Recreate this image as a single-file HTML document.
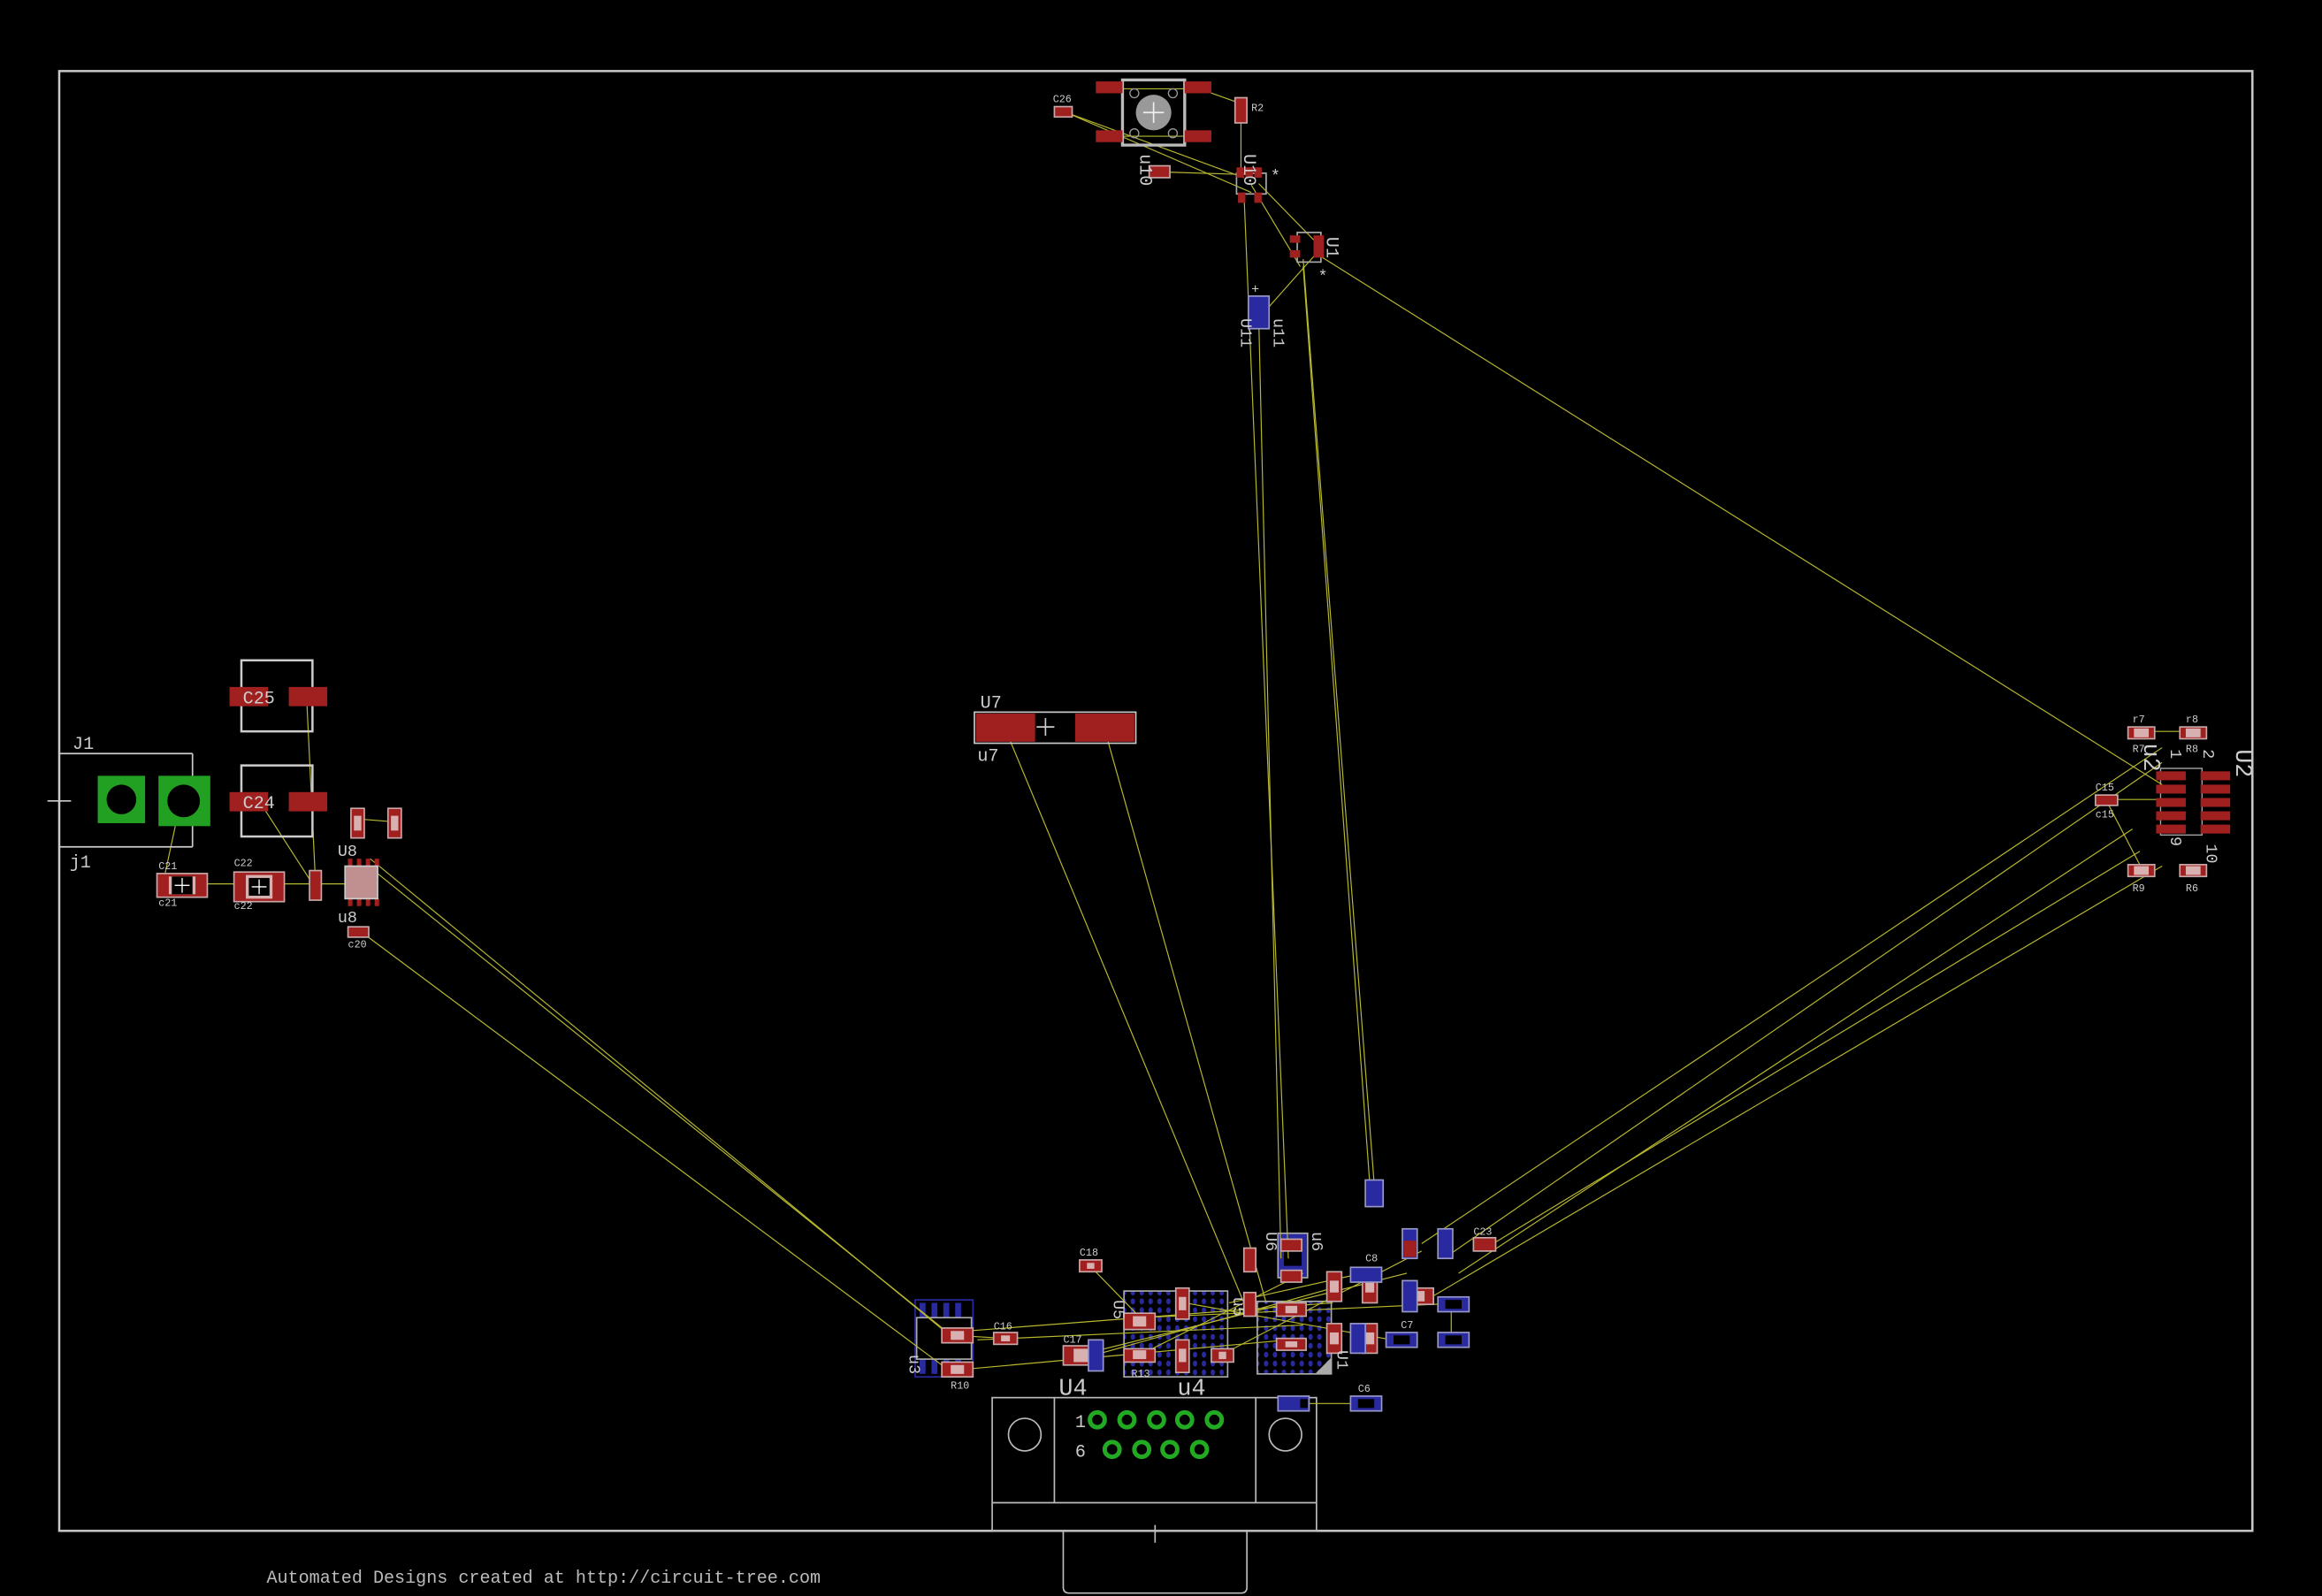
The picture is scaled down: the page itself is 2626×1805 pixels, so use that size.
<!DOCTYPE html>
<html><head><meta charset="utf-8"><style>
html,body{margin:0;padding:0;background:#000;}
svg{display:block;}
text{font-family:"Liberation Mono",monospace;}
</style></head><body>
<svg width="2626" height="1805" viewBox="0 0 1568 1078" preserveAspectRatio="none" xmlns="http://www.w3.org/2000/svg">
<defs>
<pattern id="dots" width="6" height="6" patternUnits="userSpaceOnUse"><ellipse cx="3" cy="3" rx="1.5" ry="2" fill="#2a2aa0"/></pattern>
</defs>
<rect width="1568" height="1078" fill="#000"/>
<!-- board -->
<rect x="40" y="48" width="1481" height="986" fill="none" stroke="#c8c8c8" stroke-width="1.5"/>
<rect x="670" y="944" width="219" height="90" fill="none" stroke="#bbb" stroke-width="1"/>
<line x1="670" y1="1015" x2="889" y2="1015" stroke="#bbb"/>
<line x1="712" y1="944" x2="712" y2="1015" stroke="#bbb"/>
<line x1="848" y1="944" x2="848" y2="1015" stroke="#bbb"/>
<circle cx="692" cy="969" r="11" fill="none" stroke="#bbb"/>
<circle cx="868" cy="969" r="11" fill="none" stroke="#bbb"/>
<path d="M718 1034 V1072 Q718 1076 722 1076 H838 Q842 1076 842 1072 V1034" fill="none" stroke="#bbb"/>
<line x1="780" y1="1030" x2="780" y2="1042" stroke="#bbb"/>
<g fill="none" stroke="#22aa22" stroke-width="3">
<circle cx="741" cy="959" r="5"/><circle cx="761" cy="959" r="5"/><circle cx="781" cy="959" r="5"/><circle cx="800" cy="959" r="5"/><circle cx="820" cy="959" r="5"/>
<circle cx="751" cy="979" r="5"/><circle cx="771" cy="979" r="5"/><circle cx="790" cy="979" r="5"/><circle cx="810" cy="979" r="5"/>
</g>
<text x="726" y="964" fill="#ccc" font-size="12">1</text>
<text x="726" y="984" fill="#ccc" font-size="12">6</text>
<text x="715" y="942" fill="#ccc" font-size="16">U4</text>
<text x="795" y="942" fill="#ccc" font-size="16">u4</text>
<text x="180" y="1069" fill="#bbb" font-size="12">Automated Designs created at http://circuit-tree.com</text>

<!-- bottom cluster chips -->
<rect x="618" y="878" width="39" height="52" fill="none" stroke="#2a2aa0"/>
<g fill="#2a2aa0"><rect x="621" y="880" width="4" height="10"/><rect x="629" y="880" width="4" height="10"/><rect x="637" y="880" width="4" height="10"/><rect x="645" y="880" width="4" height="10"/>
<rect x="621" y="918" width="4" height="10"/><rect x="629" y="918" width="4" height="10"/><rect x="637" y="918" width="4" height="10"/><rect x="645" y="918" width="4" height="10"/></g>
<rect x="619" y="890" width="37" height="28" fill="none" stroke="#aaa" stroke-width="1"/>
<rect x="759" y="872" width="70" height="58" fill="url(#dots)" stroke="#aaa" stroke-width="1"/>
<rect x="849" y="879" width="50" height="49" fill="url(#dots)" stroke="#aaa" stroke-width="1"/>
<path d="M888 928 L899 928 L899 917 Z" fill="#aaa"/>
<rect x="863" y="833" width="20" height="30" fill="#2a2aa0" stroke="#aaa"/>
<rect x="867" y="843" width="12" height="12" fill="#000"/>

<!-- ratsnest -->
<g stroke="#b8b830" stroke-width="0.7" fill="none">
<line x1="890" y1="172" x2="1460" y2="530"/>
<line x1="840" y1="130" x2="870" y2="850"/>
<line x1="850" y1="215" x2="865" y2="850"/>
<line x1="880" y1="175" x2="928" y2="800"/>
<line x1="880" y1="180" x2="925" y2="800"/>
<line x1="682" y1="500" x2="840" y2="880"/>
<line x1="748" y1="500" x2="855" y2="880"/>
<line x1="255" y1="590" x2="640" y2="900"/>
<line x1="250" y1="580" x2="645" y2="905"/>
<line x1="242" y1="628" x2="640" y2="925"/>
<line x1="1460" y1="505" x2="960" y2="840"/>
<line x1="1460" y1="515" x2="975" y2="850"/>
<line x1="1440" y1="560" x2="985" y2="860"/>
<line x1="1445" y1="575" x2="1000" y2="845"/>
<line x1="1460" y1="585" x2="960" y2="880"/>
<line x1="720" y1="76" x2="840" y2="120"/>
<line x1="720" y1="76" x2="845" y2="130"/>
<line x1="780" y1="116" x2="845" y2="118"/>
<line x1="838" y1="75" x2="838" y2="120"/>
<line x1="752" y1="60" x2="810" y2="60"/><line x1="752" y1="92" x2="810" y2="92"/>
<line x1="810" y1="60" x2="838" y2="70"/>
<line x1="850" y1="124" x2="890" y2="165"/>
<line x1="845" y1="125" x2="878" y2="180"/>
<line x1="890" y1="170" x2="850" y2="215"/>
<line x1="122" y1="541" x2="110" y2="597"/>
<line x1="110" y1="597" x2="245" y2="597"/>
<line x1="207" y1="470" x2="213" y2="595"/>
<line x1="175" y1="541" x2="213" y2="600"/>
<line x1="240" y1="553" x2="265" y2="555"/>
<line x1="640" y1="900" x2="900" y2="880"/>
<line x1="660" y1="905" x2="880" y2="895"/>
<line x1="730" y1="915" x2="950" y2="860"/>
<line x1="770" y1="890" x2="990" y2="880"/>
<line x1="800" y1="880" x2="940" y2="905"/>
<line x1="650" y1="925" x2="870" y2="905"/>
<line x1="740" y1="915" x2="900" y2="870"/>
<line x1="825" y1="915" x2="960" y2="845"/>
<line x1="830" y1="880" x2="920" y2="860"/>
<line x1="770" y1="915" x2="880" y2="860"/>
<line x1="736" y1="855" x2="770" y2="890"/>
<line x1="645" y1="902" x2="680" y2="904"/>
<line x1="875" y1="948" x2="922" y2="948"/>
<line x1="980" y1="880" x2="980" y2="905"/>
<line x1="1422" y1="540" x2="1460" y2="540"/>
<line x1="1445" y1="494" x2="1480" y2="494"/>
<line x1="1422" y1="540" x2="1447" y2="588"/>
</g>

<!-- passives (red) -->
<g fill="#a02020" stroke="#c8a8a8" stroke-width="1">
<rect x="729" y="851" width="15" height="8"/><rect x="671" y="900" width="16" height="8"/>
<rect x="636" y="897" width="21" height="10"/><rect x="636" y="920" width="21" height="10"/>
<rect x="718" y="909" width="27" height="13"/>
<rect x="759" y="887" width="21" height="11"/><rect x="759" y="911" width="21" height="9"/>
<rect x="794" y="870" width="9" height="21"/><rect x="794" y="905" width="9" height="22"/>
<rect x="818" y="911" width="15" height="9"/>
<rect x="840" y="843" width="8" height="16"/><rect x="840" y="873" width="8" height="16"/>
<rect x="865" y="837" width="14" height="8"/><rect x="865" y="858" width="14" height="8"/>
<rect x="862" y="880" width="20" height="9"/><rect x="862" y="904" width="20" height="8"/>
<rect x="896" y="859" width="10" height="20"/><rect x="896" y="894" width="10" height="20"/>
<rect x="920" y="859" width="10" height="21"/><rect x="920" y="894" width="10" height="20"/>
<rect x="948" y="870" width="20" height="11"/><rect x="995" y="836" width="15" height="9"/>
<rect x="712" y="72" width="12" height="7"/><rect x="834" y="66" width="8" height="17"/>
<rect x="776" y="112" width="14" height="8"/>
<rect x="106" y="590" width="34" height="16"/><rect x="158" y="589" width="34" height="20"/>
<rect x="209" y="588" width="8" height="20"/>
<rect x="237" y="546" width="9" height="20"/><rect x="262" y="546" width="9" height="20"/>
<rect x="235" y="626" width="14" height="7"/>
<rect x="1437" y="491" width="18" height="8"/><rect x="1472" y="491" width="18" height="8"/>
<rect x="1437" y="584" width="18" height="8"/><rect x="1472" y="584" width="18" height="8"/>
<rect x="1415" y="537" width="15" height="7"/>
</g>
<!-- passive centers -->
<g fill="#d8b0b0">
<rect x="734" y="853" width="5" height="4"/><rect x="676" y="902" width="6" height="4"/>
<rect x="642" y="899" width="9" height="6"/><rect x="642" y="922" width="9" height="6"/>
<rect x="725" y="911" width="13" height="9"/>
<rect x="765" y="889" width="9" height="7"/><rect x="765" y="912" width="9" height="6"/>
<rect x="796" y="876" width="5" height="9"/><rect x="796" y="911" width="5" height="9"/>
<rect x="823" y="913" width="5" height="5"/>
<rect x="868" y="882" width="8" height="5"/><rect x="868" y="906" width="8" height="4"/>
<rect x="898" y="865" width="6" height="8"/><rect x="898" y="900" width="6" height="8"/>
<rect x="922" y="865" width="6" height="8"/><rect x="922" y="900" width="6" height="8"/>
<rect x="953" y="872" width="9" height="7"/>
<rect x="114" y="592" width="18" height="12"/><rect x="166" y="591" width="18" height="16"/>
<rect x="239" y="551" width="5" height="10"/><rect x="264" y="551" width="5" height="10"/>
<rect x="1441" y="492" width="10" height="6"/><rect x="1476" y="492" width="10" height="6"/>
<rect x="1441" y="585" width="10" height="6"/><rect x="1476" y="585" width="10" height="6"/>
</g>
<rect x="116" y="592" width="14" height="12" fill="#000"/><rect x="168" y="593" width="14" height="12" fill="#000"/>
<g stroke="#fff" stroke-width="0.8"><line x1="118" y1="598" x2="128" y2="598"/><line x1="123" y1="593" x2="123" y2="603"/><line x1="170" y1="599" x2="180" y2="599"/><line x1="175" y1="594" x2="175" y2="604"/></g>

<!-- blue parts -->
<g fill="#2a2aa0" stroke="#9898c8" stroke-width="1">
<rect x="922" y="797" width="12" height="18"/>
<rect x="735" y="905" width="10" height="21"/>
<rect x="912" y="856" width="21" height="10"/>
<rect x="912" y="894" width="10" height="20"/>
<rect x="936" y="900" width="21" height="10"/>
<rect x="947" y="830" width="10" height="20"/><rect x="947" y="865" width="10" height="21"/>
<rect x="971" y="830" width="10" height="20"/>
<rect x="971" y="876" width="21" height="10"/><rect x="971" y="900" width="21" height="10"/>
<rect x="863" y="943" width="21" height="10"/><rect x="912" y="943" width="21" height="10"/>
<rect x="843" y="200" width="14" height="22"/>
</g>
<g fill="#000"><rect x="878" y="945" width="5" height="6"/><rect x="917" y="945" width="11" height="6"/><rect x="976" y="878" width="11" height="6"/><rect x="976" y="902" width="11" height="6"/><rect x="941" y="902" width="11" height="6"/></g>
<rect x="948" y="838" width="8" height="11" fill="#a02020"/>

<g fill="#ccc" font-size="7">
<text x="671" y="898">C16</text><text x="718" y="907">C17</text><text x="729" y="848">C18</text>
<text x="642" y="938">R10</text><text x="764" y="930">R13</text><text x="995" y="834">C23</text>
<text x="922" y="852">C8</text><text x="946" y="897">C7</text><text x="917" y="940">C6</text>
<text x="711" y="69">C26</text><text x="845" y="75">R2</text>
<text x="107" y="587">C21</text><text x="107" y="612">c21</text><text x="158" y="585">C22</text><text x="158" y="614">c22</text>
<text x="235" y="640">c20</text>
<text x="1440" y="488">r7</text><text x="1476" y="488">r8</text><text x="1440" y="508">R7</text><text x="1476" y="508">R8</text>
<text x="1415" y="534">C15</text><text x="1415" y="552">c15</text>
<text x="1440" y="602">R9</text><text x="1476" y="602">R6</text>
</g>
<text x="614" y="915" fill="#ccc" font-size="11" transform="rotate(90 614 915)">u3</text>
<text x="752" y="878" fill="#ccc" font-size="11" transform="rotate(90 752 878)">U5</text>
<text x="855" y="832" fill="#ccc" font-size="11" transform="rotate(90 855 832)">U6</text>
<text x="886" y="832" fill="#ccc" font-size="11" transform="rotate(90 886 832)">u6</text>
<text x="833" y="876" fill="#ccc" font-size="11" transform="rotate(90 833 876)">u5</text>
<text x="903" y="912" fill="#ccc" font-size="11" transform="rotate(90 903 912)">U1</text>

<!-- top button -->
<rect x="758" y="54" width="42" height="44" fill="none" stroke="#bbb" stroke-width="2"/>
<circle cx="779" cy="76" r="12" fill="#999"/>
<line x1="772" y1="76" x2="786" y2="76" stroke="#eee"/><line x1="779" y1="69" x2="779" y2="83" stroke="#eee"/>
<g fill="none" stroke="#999" stroke-width="0.8"><circle cx="766" cy="63" r="3"/><circle cx="792" cy="63" r="3"/><circle cx="766" cy="90" r="3"/><circle cx="792" cy="90" r="3"/></g>
<g fill="#a02020">
<rect x="740" y="55" width="18" height="8"/><rect x="800" y="55" width="18" height="8"/>
<rect x="740" y="88" width="18" height="8"/><rect x="800" y="88" width="18" height="8"/>
</g>
<rect x="835" y="117" width="20" height="14" fill="none" stroke="#aaa"/>
<g fill="#a02020"><rect x="835" y="113" width="5" height="7"/><rect x="841" y="113" width="5" height="7"/><rect x="847" y="113" width="5" height="7"/>
<rect x="836" y="130" width="5" height="7"/><rect x="847" y="130" width="5" height="7"/></g>
<text x="858" y="122" fill="#ccc" font-size="11">*</text>
<text x="840" y="104" fill="#ccc" font-size="12" transform="rotate(90 840 104)">U10</text>
<text x="770" y="104" fill="#ccc" font-size="12" transform="rotate(90 770 104)">u10</text>
<rect x="876" y="157" width="16" height="20" fill="none" stroke="#aaa"/>
<g fill="#a02020"><rect x="871" y="159" width="7" height="5"/><rect x="871" y="169" width="7" height="5"/><rect x="887" y="159" width="7" height="5"/><rect x="887" y="164" width="7" height="5"/><rect x="887" y="169" width="7" height="5"/></g>
<text x="890" y="190" fill="#ccc" font-size="11">*</text>
<text x="896" y="160" fill="#ccc" font-size="12" transform="rotate(90 896 160)">U1</text>
<text x="838" y="215" fill="#ccc" font-size="11" transform="rotate(90 838 215)">U11</text>
<text x="860" y="215" fill="#ccc" font-size="11" transform="rotate(90 860 215)">u11</text>
<text x="845" y="198" fill="#ccc" font-size="9">+</text>

<!-- U7 -->
<rect x="658" y="481" width="109" height="21" fill="none" stroke="#ccc"/>
<rect x="659" y="482" width="40" height="19" fill="#a02020"/><rect x="726" y="482" width="40" height="19" fill="#a02020"/>
<line x1="700" y1="491" x2="712" y2="491" stroke="#ccc"/><line x1="706" y1="485" x2="706" y2="497" stroke="#ccc"/>
<text x="662" y="478" fill="#ccc" font-size="12">U7</text>
<text x="660" y="514" fill="#ccc" font-size="12">u7</text>

<!-- left side -->
<line x1="40" y1="509" x2="130" y2="509" stroke="#ccc"/>
<line x1="40" y1="572" x2="130" y2="572" stroke="#ccc"/>
<line x1="130" y1="509" x2="130" y2="572" stroke="#ccc"/>
<line x1="32" y1="541" x2="48" y2="541" stroke="#ccc"/>
<rect x="66" y="524" width="32" height="32" fill="#22a022"/><circle cx="82" cy="540" r="10" fill="#000"/>
<rect x="107" y="524" width="35" height="34" fill="#22a022"/><circle cx="124" cy="541" r="11" fill="#000"/>
<text x="49" y="506" fill="#ccc" font-size="12">J1</text>
<text x="47" y="586" fill="#ccc" font-size="12">j1</text>
<rect x="163" y="446" width="48" height="48" fill="none" stroke="#ccc" stroke-width="1.5"/>
<rect x="155" y="464" width="26" height="13" fill="#a02020"/><rect x="195" y="464" width="26" height="13" fill="#a02020"/>
<text x="164" y="475" fill="#ccc" font-size="12">C25</text>
<rect x="163" y="517" width="48" height="48" fill="none" stroke="#ccc" stroke-width="1.5"/>
<rect x="155" y="535" width="26" height="13" fill="#a02020"/><rect x="195" y="535" width="26" height="13" fill="#a02020"/>
<text x="164" y="546" fill="#ccc" font-size="12">C24</text>
<g fill="#a02020"><rect x="235" y="580" width="3" height="5"/><rect x="241" y="580" width="3" height="5"/><rect x="247" y="580" width="3" height="5"/><rect x="253" y="580" width="3" height="5"/>
<rect x="235" y="607" width="3" height="5"/><rect x="241" y="607" width="3" height="5"/><rect x="247" y="607" width="3" height="5"/><rect x="253" y="607" width="3" height="5"/></g>
<rect x="233" y="585" width="22" height="22" fill="#c09090" stroke="#ccc"/>
<text x="228" y="578" fill="#ccc" font-size="11">U8</text><text x="228" y="623" fill="#ccc" font-size="11">u8</text>

<!-- right U2 -->
<rect x="1459" y="519" width="28" height="45" fill="none" stroke="#aaa" stroke-width="0.8"/>
<g fill="#a02020">
<rect x="1456" y="521" width="20" height="6"/><rect x="1456" y="530" width="20" height="6"/><rect x="1456" y="539" width="20" height="6"/><rect x="1456" y="548" width="20" height="6"/><rect x="1456" y="557" width="20" height="6"/>
<rect x="1486" y="521" width="20" height="6"/><rect x="1486" y="530" width="20" height="6"/><rect x="1486" y="539" width="20" height="6"/><rect x="1486" y="548" width="20" height="6"/><rect x="1486" y="557" width="20" height="6"/>
</g>
<text x="1510" y="506" fill="#ccc" font-size="16" transform="rotate(90 1510 506)">U2</text>
<text x="1448" y="502" fill="#ccc" font-size="16" transform="rotate(90 1448 502)">u2</text>
<text x="1466" y="506" fill="#ccc" font-size="11" transform="rotate(90 1466 506)">1</text>
<text x="1488" y="506" fill="#ccc" font-size="11" transform="rotate(90 1488 506)">2</text>
<text x="1466" y="565" fill="#ccc" font-size="11" transform="rotate(90 1466 565)">9</text>
<text x="1490" y="570" fill="#ccc" font-size="11" transform="rotate(90 1490 570)">10</text>
</svg>
</body></html>
